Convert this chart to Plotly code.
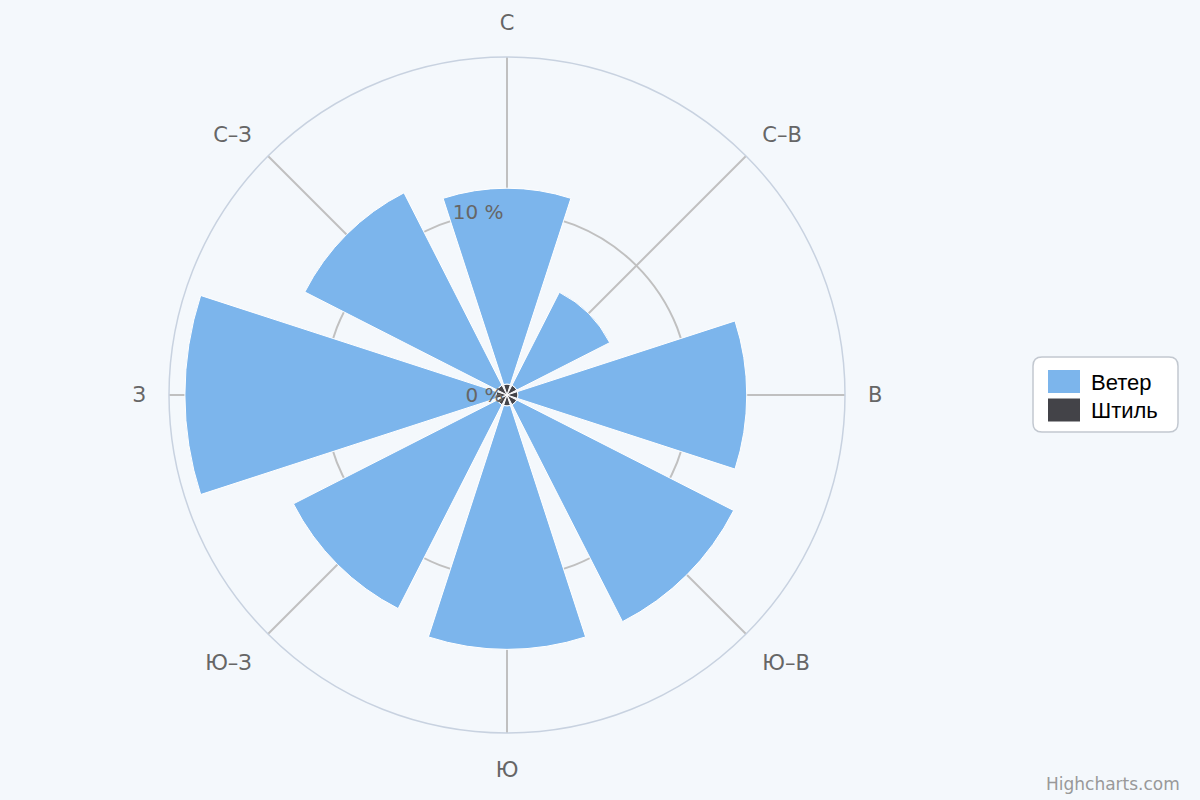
import plotly.graph_objects as go

# wind rose data, percent of observations
directions = ['С', 'С–В', 'В', 'Ю–В', 'Ю', 'Ю–З', 'З', 'С–З']
wind = [10.7, 5.7, 12.5, 13.3, 13.3, 12.5, 17.0, 11.8]
calm = [0.6, 0.6, 0.6, 0.6, 0.6, 0.6, 0.6, 0.6]
radial_ticks = [0, 10]
radial_labels = ['0 %', '10 %']
series_names = ['Ветер', 'Штиль']
series_colors = ['#7cb5ec', '#434348']

bg = '#f4f8fc'
W, H = 1200, 800
cx, cy, R = 507, 395, 338

fig = go.Figure()
fig.add_trace(go.Barpolar(
    r=calm, theta=directions, name=series_names[1], width=0.8,
    marker=dict(color=series_colors[1], line=dict(color='white', width=1)),
))
fig.add_trace(go.Barpolar(
    r=wind, theta=directions, name=series_names[0], width=0.8,
    marker=dict(color=series_colors[0], line=dict(color='white', width=1)),
))

fig.update_layout(
    width=W, height=H,
    paper_bgcolor=bg,
    margin=dict(l=0, r=0, t=0, b=0),
    font=dict(family='DejaVu Sans', color='#666666', size=19),
    showlegend=False,
    polar=dict(
        bgcolor=bg,
        barmode='stack',
        domain=dict(x=[(cx - R) / W, (cx + R) / W],
                    y=[(H - cy - R) / H, (H - cy + R) / H]),
        angularaxis=dict(
            direction='clockwise', rotation=90,
            showline=True, linecolor='#c8d2e0', linewidth=1.5,
            showgrid=True, gridcolor='#c0c0c0', gridwidth=1.5,
            ticks='outside', ticklen=18, tickcolor='rgba(0,0,0,0)',
            tickfont=dict(size=21, color='#666666'),
        ),
        radialaxis=dict(
            range=[0, 18.47], angle=90, tickangle=90, side='counterclockwise',
            tickvals=radial_ticks, ticktext=radial_labels,
            showline=False, ticks='',
            showgrid=True, gridcolor='#c0c0c0', gridwidth=1.5,
            tickfont=dict(size=20, color='#666666'),
        ),
    ),
)

# legend box drawn by hand (rounded, with large swatches like the original)
def px_x(v):
    return v / W

def px_y(v):
    return 1 - v / H

x0, x1, y0, y1, rad = 1033, 1178, 357, 432, 9
box = (f"M {px_x(x0 + rad)},{px_y(y0)} L {px_x(x1 - rad)},{px_y(y0)} "
       f"Q {px_x(x1)},{px_y(y0)} {px_x(x1)},{px_y(y0 + rad)} "
       f"L {px_x(x1)},{px_y(y1 - rad)} Q {px_x(x1)},{px_y(y1)} {px_x(x1 - rad)},{px_y(y1)} "
       f"L {px_x(x0 + rad)},{px_y(y1)} Q {px_x(x0)},{px_y(y1)} {px_x(x0)},{px_y(y1 - rad)} "
       f"L {px_x(x0)},{px_y(y0 + rad)} Q {px_x(x0)},{px_y(y0)} {px_x(x0 + rad)},{px_y(y0)} Z")
fig.add_shape(type='path', path=box, xref='paper', yref='paper',
              fillcolor='white', line=dict(color='#c2c8d0', width=1.5))

for i, (name, color) in enumerate(zip(series_names, series_colors)):
    top = 370 + i * 28.5
    fig.add_shape(type='rect', xref='paper', yref='paper',
                  x0=px_x(1048), x1=px_x(1080), y0=px_y(top), y1=px_y(top + 23),
                  fillcolor=color, line=dict(width=0))
    fig.add_annotation(text=name, x=px_x(1089), y=px_y(top + 12),
                       xref='paper', yref='paper', xanchor='left', yanchor='middle',
                       showarrow=False,
                       font=dict(family='Liberation Sans', size=22, color='black'))

fig.add_annotation(
    text='Highcharts.com', x=1182 / W, y=1 - 784 / H,
    xref='paper', yref='paper', xanchor='right', yanchor='middle',
    showarrow=False, font=dict(size=17, color='#999999'),
)

fig.write_html("out.html", config={'displayModeBar': False},
               post_script="document.body.style.margin='0';")
